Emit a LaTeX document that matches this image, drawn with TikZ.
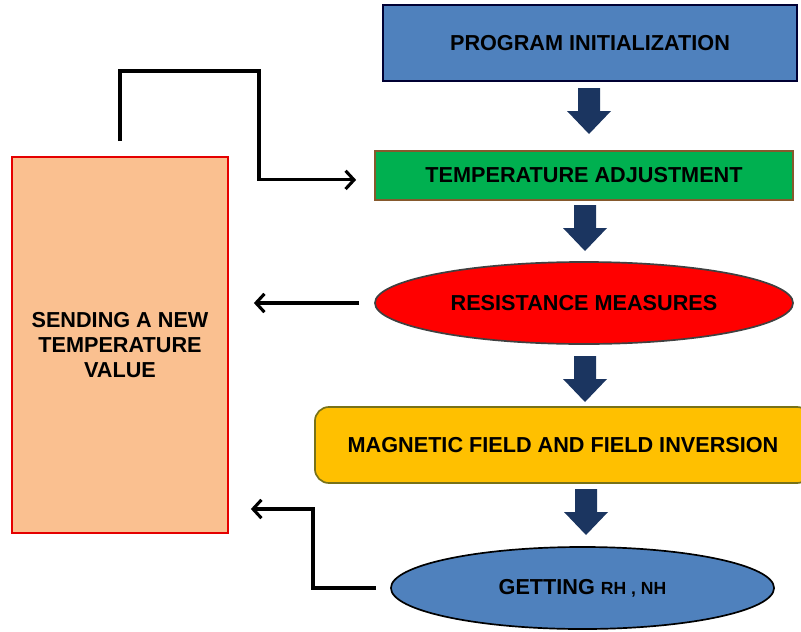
\documentclass[tikz,border=0pt]{standalone}
\usepackage{fontspec}
\setmainfont{Liberation Sans}
\usepackage{xcolor}
\usepackage{tikz}
\usetikzlibrary{shapes, arrows.meta, positioning, calc}
\definecolor{initblue}{HTML}{4F81BD}
\definecolor{adjgreen}{HTML}{00B050}
\definecolor{fieldgold}{HTML}{FFC000}
\definecolor{sendpeach}{HTML}{FAC090}
\definecolor{flownavy}{HTML}{1B3560}

\tikzset{
    stage/.style={draw, line width=1.2pt, inner sep=0pt, align=center,
        font=\fontsize{15.4}{18}\selectfont\bfseries},
    link/.style={draw=black, line width=2.2pt, -{Straight Barb[length=6pt, width=13pt]}},
    pics/downflow/.style={code={
        \fill[flownavy] (-11,0) -- (11,0) -- (11,23) -- (22,23) -- (0,46)
            -- (-22,23) -- (-11,23) -- cycle;
    }}
}

\begin{document}
\begin{tikzpicture}[x=0.025cm, y=-0.025cm]
    \useasboundingbox (0,0) rectangle (801,631);

    % Main column
    \node[stage, fill=initblue, draw=black!80!blue, minimum width=10.35cm, minimum height=1.9cm]
        (init) at (590,43) {PROGRAM INITIALIZATION};
    \node[stage, fill=adjgreen, draw=brown!70!black, minimum width=10.45cm, minimum height=1.225cm]
        (tempadj) at (584,175.5) {TEMPERATURE ADJUSTMENT};
    \node[stage, ellipse, fill=red, draw=black!75, minimum width=10.45cm, minimum height=2.05cm]
        (resmeas) at (584,303) {RESISTANCE MEASURES};
    \node[stage, rounded corners=10pt, fill=fieldgold, draw=olive!80!black, minimum width=12.4cm, minimum height=1.9cm]
        (field) at (563,445) {MAGNETIC FIELD AND FIELD INVERSION};
    \node[stage, ellipse, fill=initblue, draw=black, minimum width=9.575cm, minimum height=2.05cm]
        (getting) at (582.5,588) {GETTING {\fontsize{12.5}{13}\selectfont RH , NH}};

    % Side box
    \node[stage, fill=sendpeach, draw=red!90!black, minimum width=5.4cm, minimum height=9.4cm]
        (sendbox) at (120,345) {SENDING A NEW\\TEMPERATURE\\VALUE};

    % Block arrows between stages
    \pic at (589,88) {downflow};
    \pic at (585,205) {downflow};
    \pic at (585,356) {downflow};
    \pic at (586,489) {downflow};

    % Feedback connectors
    \coordinate (topbend) at (259,71);
    \coordinate (lowbend) at (313,509);
    \draw[link] ($(sendbox.north)+(0,-15)$) |- (topbend) |- ([xshift=-0.45cm,yshift=-0.11cm]tempadj.west);
    \draw[link] ([xshift=-0.375cm]resmeas.west) -- ([xshift=0.625cm]sendbox.east |- resmeas.west);
    \draw[link] ([xshift=-0.35cm]getting.west) -| (lowbend) -- ([xshift=0.55cm]sendbox.east |- lowbend);
\end{tikzpicture}
\end{document}
